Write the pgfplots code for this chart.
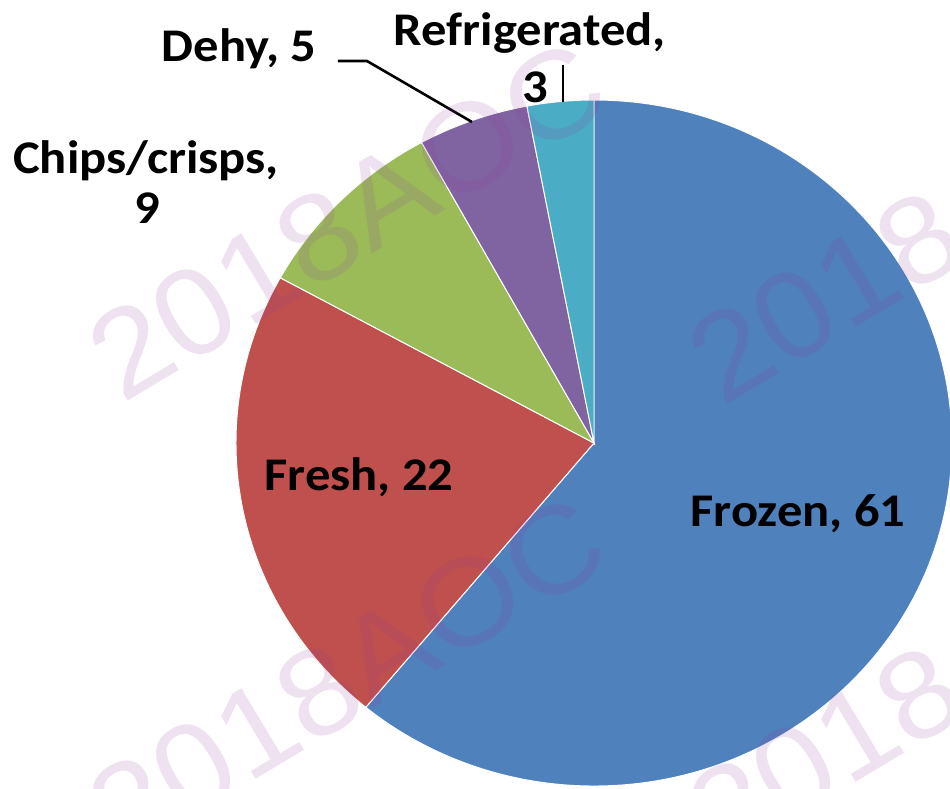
\documentclass[border=0pt]{standalone}
\usepackage{fontspec}
\setmainfont{Carlito}
\newfontfamily\wmfont{Liberation Sans}
\usepackage{pgfplots}
\pgfplotsset{compat=1.18}

\definecolor{cFrozen}{RGB}{79,129,189}
\definecolor{cFresh}{RGB}{192,80,77}
\definecolor{cChips}{RGB}{155,187,89}
\definecolor{cDehy}{RGB}{128,100,162}
\definecolor{cRefr}{RGB}{75,172,198}
\definecolor{wm}{RGB}{143,61,155}

% pie geometry (axis units = pixels of the original picture)
\def\cx{594}\def\cy{443}
\def\rx{179bp}\def\ry{171.5bp}
\def\cur{90}
% one wedge: value (percent), colour
\newcommand\slice[2]{%
  \pgfmathsetmacro\nxt{\cur-#1*3.6}%
  \edef\tmp{\noexpand\fill[#2, draw=white, line width=0.5pt]
    (axis cs:\cx,\cy) -- ++(\cur:\rx\space and \ry)
    arc[start angle=\cur, end angle=\nxt, x radius=\rx, y radius=\ry] -- cycle;}%
  \tmp
  \global\let\cur\nxt}

\begin{document}
\begin{tikzpicture}
\begin{axis}[
    name=ax,
    width=475bp, height=394bp,
    scale only axis,
    hide axis,
    xmin=0, xmax=950,
    ymin=0, ymax=788,
    y dir=reverse,
    clip=false,
  ]
  \slice{61}{cFrozen}
  \slice{22}{cFresh}
  \slice{9}{cChips}
  \slice{5}{cDehy}
  \slice{3}{cRefr}

  % data labels
  \begin{scope}[every node/.style={font=\fontsize{23.5}{23.5}\selectfont\bfseries, anchor=base, xscale=1.08, inner sep=0pt}]
    \node at (axis cs:530,45) {Refrigerated,};
    \node at (axis cs:535,102) {3};
    \node at (axis cs:239,61) {Dehy, 5};
    \node at (axis cs:146,173) {Chips/crisps,};
    \node at (axis cs:147,223) {9};
    \node at (axis cs:359,490) {Fresh, 22};
    \node at (axis cs:798,526) {Frozen, 61};
  \end{scope}

  % leader lines
  \draw[black, line width=1.3bp] (axis cs:338,61) -- (axis cs:367,61) -- (axis cs:472,122);
  \draw[black, line width=1.3bp] (axis cs:563,65) -- (axis cs:563,102);

  % watermark
  \begin{scope}[every node/.style={font=\wmfont\fontsize{62}{62}\selectfont, text=wm, opacity=0.15, anchor=base west, rotate=31, xscale=1.06, inner sep=0pt}]
    \node at (axis cs:-478,405) {2018AOC};
    \node at (axis cs:122,405) {2018AOC};
    \node at (axis cs:722,408) {2018AOC};
    \node at (axis cs:-478,860) {2018AOC};
    \node at (axis cs:122,860) {2018AOC};
    \node at (axis cs:722,863) {2018AOC};
  \end{scope}
\end{axis}
\pgfresetboundingbox
\useasboundingbox (ax.south west) rectangle (ax.north east);
\end{tikzpicture}
\end{document}
